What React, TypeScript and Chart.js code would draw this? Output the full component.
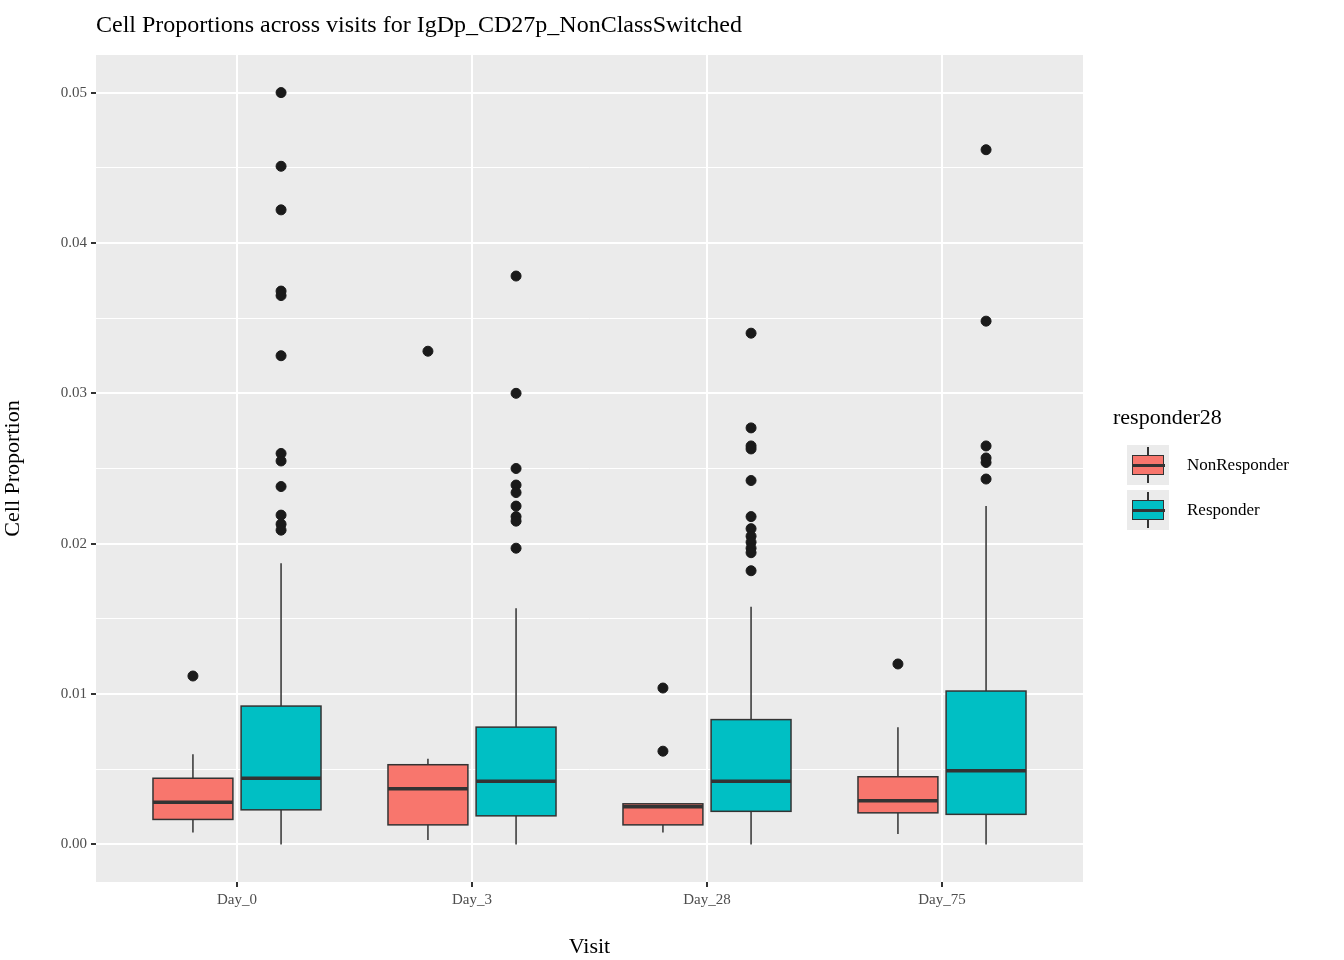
import React, { useEffect, useRef } from 'react';
import { Chart, registerables } from 'chart.js';

Chart.register(...registerables);

const visits = ['Day_0', 'Day_3', 'Day_28', 'Day_75'];
const groups = ['NonResponder', 'Responder'];
const groupColors = ['#F8766D', '#00BFC4'];

// [low whisker, q1, median, q3, high whisker] per visit
const nonResponderStats = [
  [0.0008, 0.00166, 0.0028, 0.0044, 0.006],
  [0.0003, 0.0013, 0.0037, 0.0053, 0.0057],
  [0.0008, 0.0013, 0.0025, 0.0027, 0.0027],
  [0.0007, 0.0021, 0.0029, 0.0045, 0.0078],
];
const responderStats = [
  [0, 0.0023, 0.0044, 0.0092, 0.0187],
  [0, 0.0019, 0.0042, 0.0078, 0.0157],
  [0, 0.0022, 0.0042, 0.0083, 0.0158],
  [0, 0.002, 0.0049, 0.0102, 0.0225],
];
const nonResponderOutliers = [[0.0112], [0.0328], [0.0104, 0.0062], [0.012]];
const responderOutliers = [
  [0.05, 0.0451, 0.0422, 0.0368, 0.0365, 0.0325, 0.026, 0.0255, 0.0238, 0.0219, 0.0213, 0.0209],
  [0.0378, 0.03, 0.025, 0.0239, 0.0234, 0.0225, 0.0218, 0.0215, 0.0197],
  [0.034, 0.0277, 0.0265, 0.0263, 0.0242, 0.0218, 0.021, 0.0205, 0.0201, 0.0197, 0.0194, 0.0182],
  [0.0462, 0.0348, 0.0265, 0.0257, 0.0254, 0.0243],
];
const yTicks = [0, 0.01, 0.02, 0.03, 0.04, 0.05];

const allStats = [nonResponderStats, responderStats];
const allOutliers = [nonResponderOutliers, responderOutliers];
const dodge = 0.1875;
const halfWidth = 0.17;
const serif = '"Liberation Serif", "DejaVu Serif", serif';

const boxPlugin = {
  id: 'boxes',
  beforeDraw(chart: any) {
    const { ctx, chartArea: a } = chart;
    ctx.save();
    ctx.fillStyle = '#EBEBEB';
    ctx.fillRect(a.left, a.top, a.right - a.left, a.bottom - a.top);
    ctx.restore();
  },
  beforeDatasetsDraw(chart: any) {
    const { ctx } = chart;
    const xs = chart.scales.x;
    const ys = chart.scales.y;
    ctx.save();
    ctx.strokeStyle = '#333333';
    allStats.forEach((stats, g) => {
      stats.forEach((s, i) => {
        const cx = i + 1 + (g === 0 ? -dodge : dodge);
        const px = xs.getPixelForValue(cx);
        const l = xs.getPixelForValue(cx - halfWidth);
        const r = xs.getPixelForValue(cx + halfWidth);
        const [lo, q1, med, q3, hi] = s.map((v) => ys.getPixelForValue(v));
        ctx.lineWidth = 1.5;
        ctx.beginPath();
        ctx.moveTo(px, q1); ctx.lineTo(px, lo);
        ctx.moveTo(px, q3); ctx.lineTo(px, hi);
        ctx.stroke();
        ctx.fillStyle = groupColors[g];
        ctx.fillRect(l, q3, r - l, q1 - q3);
        ctx.strokeRect(l, q3, r - l, q1 - q3);
        ctx.lineWidth = 3.5;
        ctx.beginPath();
        ctx.moveTo(l, med); ctx.lineTo(r, med);
        ctx.stroke();
      });
    });
    ctx.restore();
  },
};

const outlierData = allOutliers.flatMap((og, g) =>
  og.flatMap((vals, i) => vals.map((v) => ({ x: i + 1 + (g === 0 ? -dodge : dodge), y: v })))
);

const LegendKey: React.FC<{ color: string }> = ({ color }) => (
  <div style={{ width: 42, height: 40, background: '#EBEBEB', position: 'relative' }}>
    <div style={{ position: 'absolute', left: 20, top: 2, width: 2, height: 36, background: '#333' }} />
    <div style={{ position: 'absolute', left: 5, top: 10, width: 30, height: 18, background: color, border: '1.5px solid #333' }} />
    <div style={{ position: 'absolute', left: 5, top: 19, width: 33, height: 3, background: '#333' }} />
  </div>
);

const App: React.FC = () => {
  const ref = useRef<HTMLCanvasElement | null>(null);
  useEffect(() => {
    if (!ref.current) return;
    const chart = new Chart(ref.current, {
      type: 'scatter',
      data: {
        datasets: [{
          data: outlierData,
          backgroundColor: '#1a1a1a',
          borderColor: '#1a1a1a',
          pointRadius: 5,
          pointHoverRadius: 5,
        }],
      },
      options: {
        animation: false,
        responsive: false,
        layout: { padding: { top: 55, right: 261, left: 0, bottom: 0 } },
        plugins: { legend: { display: false }, tooltip: { enabled: false } },
        scales: {
          x: {
            type: 'linear', min: 0.4, max: 4.6,
            afterBuildTicks: (s: any) => { s.ticks = visits.map((_, i) => ({ value: i + 1 })); },
            afterFit: (s: any) => { s.height = 78; },
            ticks: { callback: (v: any) => visits[Number(v) - 1], color: '#4d4d4d', font: { family: serif, size: 15 }, padding: 4 },
            grid: { color: '#ffffff', lineWidth: 2, tickColor: '#333333', tickLength: 5 },
            border: { display: false },
            title: { display: true, text: 'Visit', color: '#000', font: { family: serif, size: 22 }, padding: 0 },
          },
          y: {
            min: -0.0025, max: 0.0525,
            afterBuildTicks: (s: any) => {
              const t = [];
              for (let k = 0; k <= 10; k++) t.push({ value: k * 0.005 });
              s.ticks = t;
            },
            afterFit: (s: any) => { s.width = 96; },
            ticks: {
              callback: (v: any) => {
                const f = yTicks.find((t) => Math.abs(t - Number(v)) < 1e-9);
                return f === undefined ? '' : f.toFixed(2);
              },
              color: '#4d4d4d', font: { family: serif, size: 15 }, padding: 4,
            },
            grid: {
              color: '#ffffff',
              lineWidth: (c: any) => (c.index % 2 === 0 ? 2 : 1),
              tickColor: (c: any) => (c.index % 2 === 0 ? '#333333' : 'rgba(0,0,0,0)'),
              tickLength: 5,
            },
            border: { display: false },
            title: { display: true, text: 'Cell Proportion', color: '#000', font: { family: serif, size: 22 }, padding: 0 },
          },
        },
      },
      plugins: [boxPlugin],
    } as any);
    return () => chart.destroy();
  }, []);

  return (
    <div style={{ position: 'fixed', left: 0, top: 0, width: 1344, height: 960, background: '#fff', fontFamily: serif }}>
      <canvas ref={ref} width={1344} height={960} style={{ position: 'absolute', left: 0, top: 0 }} />
      <div style={{ position: 'absolute', left: 96, top: 11, fontSize: 24, color: '#000' }}>
        Cell Proportions across visits for IgDp_CD27p_NonClassSwitched
      </div>
      <div style={{ position: 'absolute', left: 1113, top: 404, fontSize: 22 }}>responder28</div>
      {groups.map((g, i) => (
        <div key={g} style={{ position: 'absolute', left: 1127, top: 445 + i * 45, display: 'flex', alignItems: 'center' }}>
          <LegendKey color={groupColors[i]} />
          <span style={{ marginLeft: 18, fontSize: 17 }}>{g}</span>
        </div>
      ))}
    </div>
  );
};

export default App;
